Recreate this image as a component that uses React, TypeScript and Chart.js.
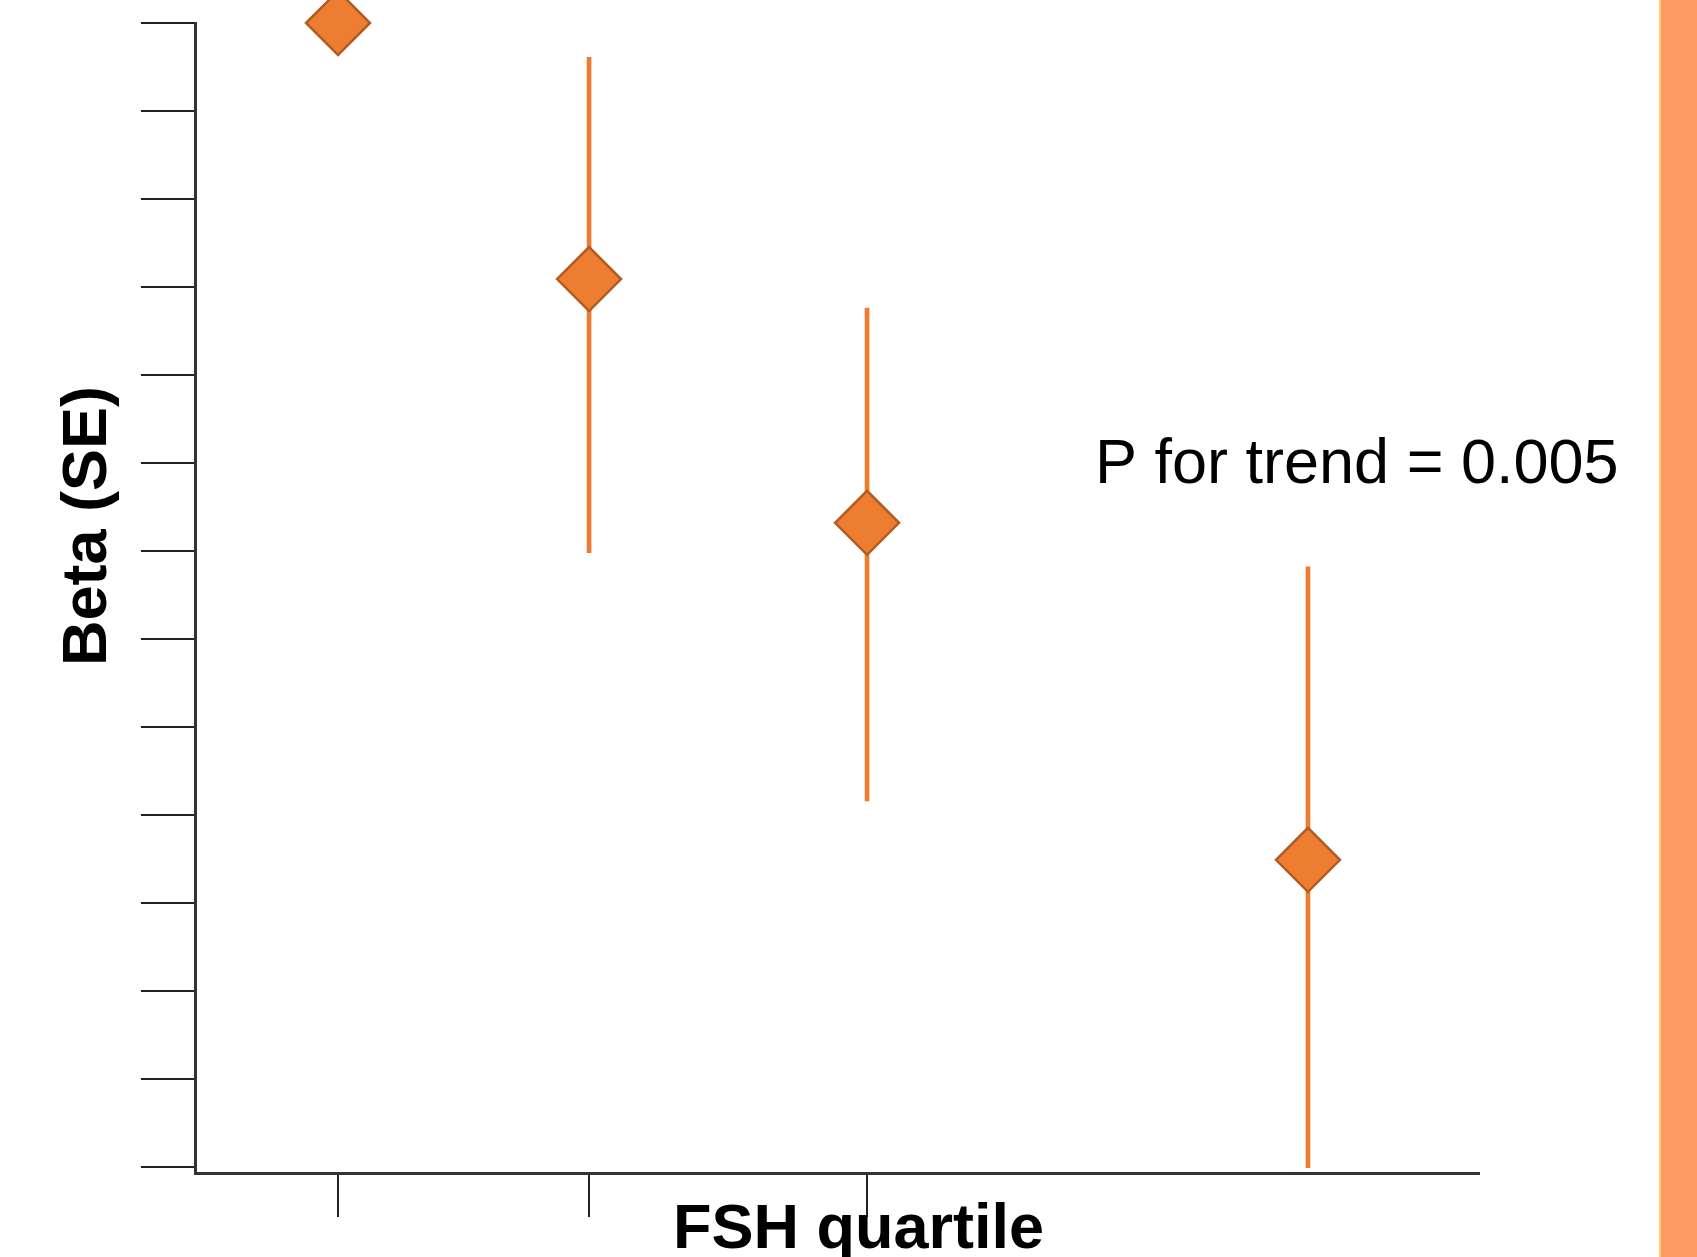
import React, { useEffect, useRef } from 'react';
import { Chart, registerables } from 'chart.js';

Chart.register(...registerables);

// ---- data ----
const quartileLabels = ['Q1', 'Q2', 'Q3', 'Q4'];
const quartilePositions = [1.114, 3.069, 5.234, 8.668];
const xTickValues = [1.114, 3.069, 5.234];
const betaValues = [0, -0.291, -0.568, -0.951];
const seLower: (number | null)[] = [null, -0.602, -0.884, -1.301];
const seUpper: (number | null)[] = [null, -0.039, -0.324, -0.618];
const yTickValues = [0, -0.1, -0.2, -0.3, -0.4, -0.5, -0.6, -0.7, -0.8, -0.9, -1.0, -1.1, -1.2, -1.3];
const xRange = [0, 10];
const yRange = [-1.307, 0];
const yAxisTitle = 'Beta (SE)';
const xAxisTitle = 'FSH quartile';
const trendText = 'P for trend = 0.005';

const ORANGE = '#ED7D31';
const ORANGE_DARK = '#B35B20';

export default function App() {
  const canvasRef = useRef<HTMLCanvasElement | null>(null);

  useEffect(() => {
    if (!canvasRef.current) return;

    const pointData = quartileLabels.map((_, i) => ({ x: quartilePositions[i], y: betaValues[i] }));
    const errData = quartileLabels
      .map((_, i) => (seLower[i] === null ? null : { x: quartilePositions[i], y: [seLower[i], seUpper[i]] }))
      .filter((d) => d !== null);

    const decor = {
      id: 'decor',
      afterDraw(chart: any) {
        const ctx = chart.ctx as CanvasRenderingContext2D;
        ctx.save();
        // right decorative band
        ctx.fillStyle = '#FDCB7A';
        ctx.fillRect(1659, 0, 2, 1257);
        ctx.fillStyle = '#FE9A63';
        ctx.fillRect(1661, 0, 36, 1257);
        // texts
        ctx.fillStyle = '#000';
        ctx.textBaseline = 'alphabetic';
        ctx.textAlign = 'left';
        ctx.font = '63px "Liberation Sans", Arial, sans-serif';
        ctx.fillText(trendText, 1095, 483);
        ctx.font = 'bold 63px "Liberation Sans", Arial, sans-serif';
        ctx.fillText(xAxisTitle, 673, 1248);
        ctx.translate(106, 526);
        ctx.rotate(-Math.PI / 2);
        ctx.textAlign = 'center';
        ctx.fillText(yAxisTitle, 0, 0);
        ctx.restore();
      },
    };

    const chart = new Chart(canvasRef.current, {
      type: 'scatter',
      data: {
        datasets: [
          {
            type: 'scatter',
            label: 'Beta',
            data: pointData,
            pointStyle: 'rectRot',
            pointRadius: 32,
            pointHoverRadius: 32,
            backgroundColor: ORANGE,
            borderColor: ORANGE_DARK,
            borderWidth: 2.5,
            showLine: false,
            clip: false,
            order: 0,
          } as any,
          {
            type: 'bar',
            label: 'SE',
            data: errData as any,
            backgroundColor: ORANGE,
            borderWidth: 0,
            barThickness: 4,
            order: 1,
            clip: false,
          } as any,
        ],
      },
      options: {
        responsive: false,
        animation: false,
        events: [],
        layout: { autoPadding: false, padding: { left: 141, right: 218, top: 23, bottom: 40 } },
        plugins: { legend: { display: false }, tooltip: { enabled: false }, title: { display: false } },
        scales: {
          x: {
            type: 'linear',
            min: xRange[0],
            max: xRange[1],
            offset: false,
            afterBuildTicks: (axis: any) => {
              axis.ticks = xTickValues.map((v) => ({ value: v }));
            },
            ticks: { display: false },
            grid: {
              display: true,
              offset: false,
              drawOnChartArea: false,
              drawTicks: true,
              tickLength: 44,
              color: '#222',
              lineWidth: 2,
            },
            border: { display: true, color: '#333', width: 3 },
          },
          y: {
            type: 'linear',
            min: yRange[0],
            max: yRange[1],
            afterBuildTicks: (axis: any) => {
              axis.ticks = yTickValues.map((v) => ({ value: v }));
            },
            ticks: { display: false },
            grid: {
              display: true,
              drawOnChartArea: false,
              drawTicks: true,
              tickLength: 54,
              color: '#222',
              lineWidth: 2,
            },
            border: { display: true, color: '#333', width: 3 },
          },
        },
      } as any,
      plugins: [decor],
    });

    return () => chart.destroy();
  }, []);

  return (
    <div style={{ position: 'absolute', left: 0, top: 0, width: 1697, height: 1257, background: '#fff' }}>
      <canvas ref={canvasRef} width={1697} height={1257} style={{ display: 'block' }} />
    </div>
  );
}
